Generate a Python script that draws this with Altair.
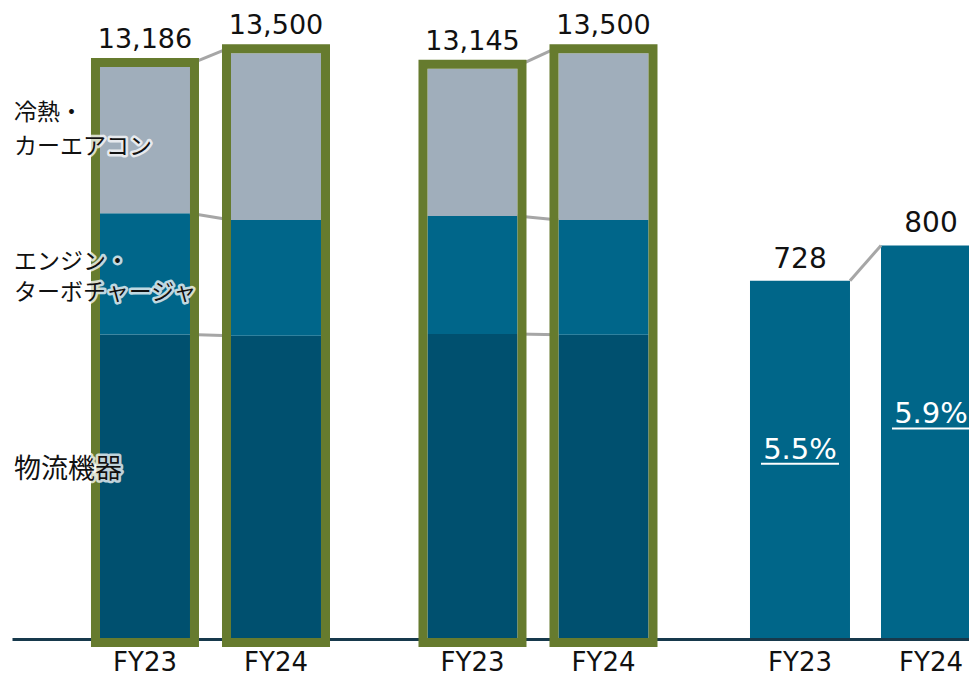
import altair as alt
import pandas as pd

# ---------------- data ----------------
fy = ["FY23", "FY24"]
segments = ["物流機器", "エンジン・ターボチャージャ", "冷熱・カーエアコン"]
segment_labels = ["物流機器", "エンジン・\nターボチャージャ", "冷熱・\nカーエアコン"]

sales_a_logistics = [7010, 6980]
sales_a_engine = [2795, 2670]
sales_a_hvac = [3381, 3850]
sales_a_total = [13186, 13500]

sales_b_logistics = [7020, 7000]
sales_b_engine = [2725, 2650]
sales_b_hvac = [3400, 3850]
sales_b_total = [13145, 13500]

op_profit = [728, 800]
op_margin = ["5.5%", "5.9%"]

# slots of the band scale ("_n" are spacers between the groups)
slot_order = ["A|FY23", "_1", "A|FY24", "_2", "_3", "B|FY23", "_4", "B|FY24",
              "_5", "_6", "C|FY23", "_7", "C|FY24"]
real_slots = [s for s in slot_order if "|" in s]

# ---------------- styles ----------------
seg_colors = ["#00506f", "#00668a", "#a0aebb"]
green = "#667b2e"
conn_color = "#a6a6a6"
num_font = "DejaVu Sans"
jp_font = "Noto Sans CJK JP"

# ---------------- tables ----------------
sales = {"A": ([sales_a_logistics, sales_a_engine, sales_a_hvac], sales_a_total),
         "B": ([sales_b_logistics, sales_b_engine, sales_b_hvac], sales_b_total)}

rows, tot_rows, conn_rows, top_rows = [], [], [], []
for g, (series, totals) in sales.items():
    cums = []
    for i, f in enumerate(fy):
        lo = 0
        c = []
        for s, vals in zip(segments, series):
            hi = lo + vals[i]
            rows.append({"slot": f"{g}|{f}", "segment": s, "lo": lo, "hi": hi,
                         "mid": (lo + hi) / 2})
            lo = hi
            c.append(hi)
        cums.append(c)
        tot_rows.append({"slot": f"{g}|{f}", "total": totals[i], "zero": 0,
                         "label": f"{totals[i]:,}"})
    for k in range(len(segments) - 1):
        conn_rows.append({"from": f"{g}|FY23", "to": f"{g}|FY24",
                          "v0": cums[0][k], "v1": cums[1][k]})
    top_rows.append({"from": f"{g}|FY23", "to": f"{g}|FY24",
                     "v0": totals[0], "v1": totals[1]})

stack_df = pd.DataFrame(rows)
tot_df = pd.DataFrame(tot_rows)
conn_df = pd.DataFrame(conn_rows)
top_df = pd.DataFrame(top_rows)

seg_lab_df = stack_df[stack_df["slot"] == "A|FY23"].copy()
seg_lab_df["text"] = segment_labels

profit_df = pd.DataFrame({"slot": [f"C|{f}" for f in fy], "profit": op_profit,
                          "margin": op_margin})
profit_conn_df = pd.DataFrame({"from": ["C|FY23"], "to": ["C|FY24"],
                               "v0": [op_profit[0]], "v1": [op_profit[1]]})

# ---------------- scales / encodings ----------------
xscale = alt.Scale(domain=slot_order, paddingInner=0, paddingOuter=0.8053, align=0.9502)
xaxis = alt.Axis(values=real_slots, labelExpr="split(datum.value,'|')[1]",
                 domain=True, domainColor="#17394c", domainWidth=3, offset=1,
                 ticks=False, grid=False, labelAngle=0, labelFont=num_font,
                 labelFontSize=26, labelColor="#111111", labelPadding=10, title=None)


def X(field):
    return alt.X(f"{field}:N", scale=xscale, axis=xaxis, title=None)


ys = alt.Scale(domain=[0, 14546], nice=False, zero=True)
yp = alt.Scale(domain=[0, 1284], nice=False, zero=True)


def YS(field):
    return alt.Y(f"{field}:Q", scale=ys, axis=None)


def YP(field):
    return alt.Y(f"{field}:Q", scale=yp, axis=None)


# ---------------- sales layers ----------------
bars = alt.Chart(stack_df).mark_bar(width=90).encode(
    x=X("slot"), y=YS("hi"), y2=alt.Y2("lo"),
    color=alt.Color("segment:N", scale=alt.Scale(domain=segments, range=seg_colors),
                    legend=None))

mid_conn = alt.Chart(conn_df).mark_rule(color=conn_color, strokeWidth=3,
                                        xOffset=45, x2Offset=-45).encode(
    x=X("from"), x2=alt.X2("to"), y=YS("v0"), y2=alt.Y2("v1"))

top_conn = alt.Chart(top_df).mark_rule(color=conn_color, strokeWidth=3,
                                       xOffset=49, x2Offset=-49,
                                       yOffset=-4.5, y2Offset=-4.5).encode(
    x=X("from"), x2=alt.X2("to"), y=YS("v0"), y2=alt.Y2("v1"))

frames = alt.Chart(tot_df).mark_bar(width=99, filled=False, fillOpacity=0,
                                    stroke=green, strokeWidth=9,
                                    yOffset=-4.5, y2Offset=4.5).encode(
    x=X("slot"), y=YS("total"), y2=alt.Y2("zero"))

tot_labels = alt.Chart(tot_df).mark_text(font=num_font, fontSize=27, color="#111111",
                                         baseline="alphabetic", dy=-19).encode(
    x=X("slot"), y=YS("total"), text="label:N")


def seg_label(segment, dy, size, line_height):
    base = alt.Chart(seg_lab_df).transform_filter(alt.datum.segment == segment)
    enc = dict(x=alt.value(2), y=YS("mid"), text="text:N")
    halo = base.mark_text(font=jp_font, fontSize=size, align="left", baseline="middle",
                          lineBreak="\n", lineHeight=line_height, dy=dy, stroke="white",
                          strokeWidth=5, strokeOpacity=0.75, strokeJoin="round",
                          fill="white").encode(**enc)
    txt = base.mark_text(font=jp_font, fontSize=size, align="left", baseline="middle",
                         lineBreak="\n", lineHeight=line_height, dy=dy,
                         color="#111111").encode(**enc)
    return [halo, txt]


seg_layers = (seg_label(segments[2], -27, 23, 34) + seg_label(segments[1], -12, 23, 31)
              + seg_label(segments[0], -16, 27, 30))

sales_layer = alt.layer(bars, mid_conn, top_conn, frames, tot_labels, *seg_layers)

# ---------------- operating profit layers ----------------
pbars = alt.Chart(profit_df).mark_bar(width=100, color="#006689").encode(
    x=X("slot"), y=YP("profit"))

pconn = alt.Chart(profit_conn_df).mark_rule(color=conn_color, strokeWidth=3,
                                            xOffset=50, x2Offset=-50).encode(
    x=X("from"), x2=alt.X2("to"), y=YP("v0"), y2=alt.Y2("v1"))

plabels = alt.Chart(profit_df).mark_text(font=num_font, fontSize=28, color="#111111",
                                         baseline="alphabetic", dy=-13).encode(
    x=X("slot"), y=YP("profit"), text="profit:Q")

mtext = alt.Chart(profit_df).mark_text(font=num_font, fontSize=29, color="white",
                                       baseline="alphabetic", dy=178).encode(
    x=X("slot"), y=YP("profit"), text="margin:N")

munder = alt.Chart(profit_df).mark_rule(color="white", strokeWidth=2,
                                        xOffset=-39, x2Offset=39, yOffset=183).encode(
    x=X("slot"), x2=alt.X2("slot"), y=YP("profit"))

profit_layer = alt.layer(pbars, pconn, plabels, mtext, munder)

chart = alt.layer(sales_layer, profit_layer).resolve_scale(y="independent").properties(
    width=957, height=630,
    padding={"left": 4, "top": 0, "right": 0, "bottom": 38},
    autosize=alt.AutoSizeParams(type="none"),
    background="white",
).configure_view(stroke=None)

chart.save("out.html", embed_options={"renderer": "svg", "actions": False})
